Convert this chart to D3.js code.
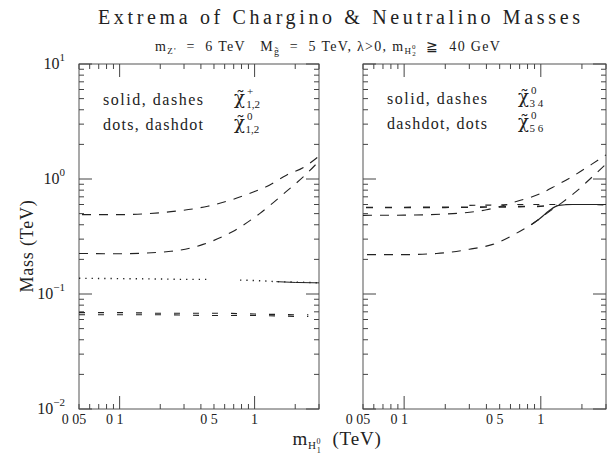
<!DOCTYPE html>
<html><head><meta charset="utf-8">
<script src="https://cdn.jsdelivr.net/npm/d3@7"></script>
<style>body{margin:0;background:#fff}svg{display:block}text{fill:#222;white-space:pre}</style>
</head><body><svg id="c" width="607" height="464"></svg>
<script>
// ---------- data ----------
const xTickLabels = ["0 05", "0 1", "0 5", "1"];
const xTickValues = [0.05, 0.1, 0.5, 1];
const yTickExps = [1, 0, -1, -2];

// left panel: charginos (solid, dashes) and neutralinos 1,2 (dots, dashdot)
const chaHiX = [0.05, 0.1, 0.24, 0.45, 0.69, 1.0, 1.23, 1.72, 2.3, 3];
const chaHiM = [0.49, 0.49, 0.52, 0.58, 0.665, 0.78, 0.86, 1.08, 1.26, 1.58];
const chaLoX = [0.05, 0.1, 0.24, 0.415, 0.69, 1.09, 1.72, 2.33, 3];
const chaLoM = [0.225, 0.224, 0.235, 0.27, 0.35, 0.50, 0.78, 1.06, 1.43];
const chaSolidX = [1.45, 2, 3];
const chaSolidM = [0.128, 0.126, 0.125];
const neuDotX = [0.05, 0.1, 0.2, 0.3, 0.45, 0.6, 0.78, 1, 1.5, 2, 3];
const neuDotM = [0.137, 0.136, 0.135, 0.134, 0.134, null, 0.132, 0.131, 0.128, 0.127, 0.125];
const neuDashdotX = [0.05, 0.1, 0.2, 0.5, 1, 2, 2.5];
const neuDashdotM = [0.069, 0.069, 0.068, 0.068, 0.067, 0.066, 0.066];
const chaLowDashM = [0.066, 0.066, 0.066, 0.065, 0.065, 0.064, 0.064];

// right panel: neutralinos 3,4 (solid, dashes) and 5,6 (dashdot, dots)
const n4HiX = [0.05, 0.1, 0.227, 0.4, 0.7, 0.98, 1.3, 1.7, 2.35, 3];
const n4HiM = [0.483, 0.485, 0.50, 0.54, 0.65, 0.74, 0.88, 1.05, 1.34, 1.62];
const n4LoX = [0.05, 0.1, 0.173, 0.3, 0.445, 0.7, 0.93, 1.1, 1.42, 1.82, 2.27, 3];
const n4LoM = [0.22, 0.22, 0.225, 0.245, 0.27, 0.35, 0.43, 0.50, 0.62, 0.78, 0.99, 1.35];
const n3SolidX = [0.85, 1.0, 1.15, 1.35, 1.7, 2.2, 3];
const n3SolidM = [0.40, 0.46, 0.53, 0.59, 0.60, 0.60, 0.60];
const n56DashdotX = [0.05, 0.1, 0.2, 0.4, 0.7, 1.0, 1.3];
const n56DashdotM = [0.566, 0.566, 0.567, 0.57, 0.575, 0.58, 0.59];
const n56DotX = [0.3, 0.5, 0.7, 1, 1.5, 2, 3];
const n56DotM = [0.59, 0.595, 0.6, 0.6, 0.6, 0.6, 0.595];

// ---------- drawing ----------
const svg = d3.select("#c");
const FONT = "'Liberation Serif','DejaVu Serif',serif";
const yTop = 64, yBot = 409;
const y = d3.scaleLog().domain([0.01, 10]).range([yBot, yTop]);
const xL = d3.scaleLog().domain([0.05, 3]).range([79, 319]);
const xR = d3.scaleLog().domain([0.05, 3]).range([363, 606]);

function panel(x) {
  const g = svg.append("g");
  const [x0, x1] = x.range();
  g.append("rect").attr("x", x0).attr("y", yTop).attr("width", x1 - x0).attr("height", yBot - yTop)
    .attr("fill", "none").attr("stroke", "#555").attr("stroke-width", 1);
  const isMajor = v => Math.abs(Math.log10(v) - Math.round(Math.log10(v))) < 1e-6;
  const yt = y.ticks();
  g.selectAll(".yl").data(yt).join("line")
    .attr("x1", x0).attr("x2", d => x0 + (isMajor(d) ? 13 : 5))
    .attr("y1", d => y(d)).attr("y2", d => y(d)).attr("stroke", "#444");
  g.selectAll(".yr").data(yt).join("line")
    .attr("x1", x1).attr("x2", d => x1 - (isMajor(d) ? 13 : 5))
    .attr("y1", d => y(d)).attr("y2", d => y(d)).attr("stroke", "#444");
  const xt = x.ticks();
  g.selectAll(".xb").data(xt).join("line")
    .attr("x1", d => x(d)).attr("x2", d => x(d))
    .attr("y1", yBot).attr("y2", d => yBot - (isMajor(d) ? 13 : 5)).attr("stroke", "#444");
  g.selectAll(".xt").data(xt).join("line")
    .attr("x1", d => x(d)).attr("x2", d => x(d))
    .attr("y1", yTop).attr("y2", d => yTop + (isMajor(d) ? 13 : 5)).attr("stroke", "#444");
  g.selectAll(".xlab").data(xTickValues).join("text")
    .attr("x", d => x(d) + (d < 1 ? -5 : 0)).attr("y", 424).attr("text-anchor", "middle")
    .attr("font-family", FONT).attr("font-size", 14)
    .text((d, i) => xTickLabels[i]);
}
panel(xL);
panel(xR);

// y tick labels (left only)
yTickExps.forEach(e => {
  const t = svg.append("text").attr("x", 65).attr("y", y(Math.pow(10, e)) + 5)
    .attr("text-anchor", "end").attr("font-family", FONT).attr("font-size", 16);
  t.append("tspan").text("10");
  t.append("tspan").attr("dy", -8).attr("font-size", 11).text(e < 0 ? "\u2212" + (-e) : String(e));
});

function curve(x, xs, ms, opts) {
  const pts = xs.map((v, i) => [v, ms[i]]);
  const line = d3.line().defined(d => d[1] != null).x(d => x(d[0])).y(d => y(d[1])).curve(d3.curveMonotoneX);
  svg.append("path").attr("d", line(pts)).attr("fill", "none")
    .attr("stroke", opts.color || "#222").attr("stroke-width", opts.w || 1.1)
    .attr("stroke-dasharray", opts.dash || null)
    .attr("stroke-dashoffset", opts.off || 0)
    .attr("stroke-linecap", "butt");
}

// left
curve(xL, chaHiX, chaHiM, {dash: "9,8", off: -3});
curve(xL, chaLoX, chaLoM, {dash: "9,8"});
curve(xL, neuDotX, neuDotM, {dash: "1.3,5", w: 1.4});
curve(xL, chaSolidX, chaSolidM, {w: 1});
curve(xL, neuDashdotX, neuDashdotM, {dash: "6,13", w: 1.2});
curve(xL, neuDashdotX, chaLowDashM, {dash: "6,13", w: 1.2});

// right
curve(xR, n56DashdotX, n56DashdotM, {dash: "7,12", w: 1.6, off: -3});
curve(xR, n56DotX, n56DotM, {dash: "6,10", w: 1.1});
curve(xR, n4HiX, n4HiM, {dash: "9,8"});
curve(xR, n4LoX, n4LoM, {dash: "9,8", off: -4});
curve(xR, n3SolidX, n3SolidM, {w: 1.2});

// legends
function chi(x, yb, sup, sub) {
  const t = svg.append("text").attr("x", x).attr("y", yb).attr("font-family", FONT).attr("font-size", 11);
  t.append("tspan").attr("font-family", "'DejaVu Serif',serif").attr("font-size", 18).text("\u03C7\u0303");
  t.append("tspan").attr("dx", 2).attr("dy", -9).text(sup);
  t.append("tspan").attr("dx", -7).attr("dy", 13).text(sub);
}
function legendText(x, yb, s) {
  svg.append("text").attr("x", x).attr("y", yb).attr("font-family", FONT).attr("font-size", 16)
    .attr("textLength", 100).attr("lengthAdjust", "spacing").text(s);
}
legendText(103, 105, "solid, dashes");
legendText(103, 130, "dots, dashdot");
chi(234, 104, "+", "1,2");
chi(234, 129, "0", "1,2");
legendText(387, 104, "solid, dashes");
legendText(387, 129, "dashdot, dots");
chi(518, 103, "0", "3 4");
chi(518, 128, "0", "5 6");

// title
svg.append("text").attr("x", 98).attr("y", 24)
  .attr("font-family", FONT).attr("font-size", 20)
  .attr("textLength", 482).attr("lengthAdjust", "spacing")
  .text("Extrema of Chargino & Neutralino Masses");

// subtitle
const st = svg.append("text").attr("x", 155).attr("y", 51)
  .attr("font-family", FONT).attr("font-size", 14).attr("letter-spacing", 1.3);
st.append("tspan").text("m");
st.append("tspan").attr("dy", 3).attr("font-size", 9).text("Z'");
st.append("tspan").attr("dy", -3).text("  =  6 TeV   M");
st.append("tspan").attr("dy", 4).attr("font-size", 10).text("g\u0303");
st.append("tspan").attr("dy", -4).text("  =  5 TeV, \u03BB>0, m");
st.append("tspan").attr("dy", 3).attr("font-size", 9).text("H");
st.append("tspan").attr("dy", 2).attr("font-size", 7).text("2");
st.append("tspan").attr("dy", -7).attr("dx", -5).attr("font-size", 7).text("0");
st.append("tspan").attr("dy", 2).text("  \u2267  40 GeV");

// axis titles
svg.append("text").attr("transform", "translate(33,246) rotate(-90)").attr("text-anchor", "middle")
  .attr("font-family", FONT).attr("font-size", 18).attr("letter-spacing", 0.8).text("Mass (TeV)");
const xtl = svg.append("text").attr("x", 337).attr("y", 445).attr("text-anchor", "middle")
  .attr("font-family", FONT).attr("font-size", 19).attr("letter-spacing", 0.8);
xtl.append("tspan").text("m");
xtl.append("tspan").attr("dy", 4).attr("font-size", 11).text("H");
xtl.append("tspan").attr("dy", 4).attr("font-size", 8).text("1");
xtl.append("tspan").attr("dy", -9).attr("dx", -5).attr("font-size", 8).text("0");
xtl.append("tspan").attr("dy", 1).text("  (TeV)");
</script></body></html>
